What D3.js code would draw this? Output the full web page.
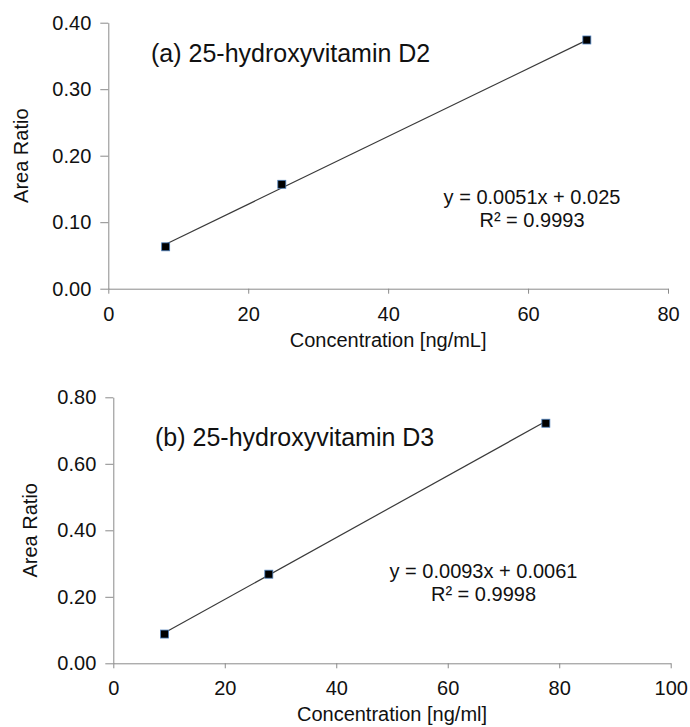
<!DOCTYPE html>
<html>
<head>
<meta charset="utf-8">
<script src="https://cdn.jsdelivr.net/npm/d3@7"></script>
<style>
  body { margin: 0; background: #fff; }
  svg { display: block; font-family: "Liberation Sans", Arial, sans-serif; }
  .axis path, .axis line { stroke: #8a8a8a; }
  .axis text { fill: #111; font-size: 20px; }
</style>
</head>
<body>
<svg id="chart" width="690" height="727"></svg>
<script>
// panel (a) 25-hydroxyvitamin D2
const concD2 = [8.2, 24.8, 68.4];
const ratioD2 = [0.063, 0.157, 0.374];
const fitD2 = [0.0051, 0.025];
const eqD2 = ["y = 0.0051x + 0.025", "R² = 0.9993"];

// panel (b) 25-hydroxyvitamin D3
const concD3 = [9.2, 27.9, 77.6];
const ratioD3 = [0.088, 0.268, 0.722];
const fitD3 = [0.0093, 0.0061];
const eqD3 = ["y = 0.0093x + 0.0061", "R² = 0.9998"];

const titles = ["(a) 25-hydroxyvitamin D2", "(b) 25-hydroxyvitamin D3"];
const xTitles = ["Concentration [ng/mL]", "Concentration [ng/ml]"];
const xMax = [80, 100];
const yMax = [0.4, 0.8];
const yStep = [0.1, 0.2];

const svg = d3.select("#chart");

const panels = [
  { conc: concD2, ratio: ratioD2, fit: fitD2, eq: eqD2, title: titles[0], xTitle: xTitles[0],
    xMax: xMax[0], yMax: yMax[0], yStep: yStep[0],
    left: 108.3, right: 668, top: 22.7, bottom: 288.7,
    titleX: 151, titleY: 62, eqX: 532, eqY: 204, yTitleX: 28 },
  { conc: concD3, ratio: ratioD3, fit: fitD3, eq: eqD3, title: titles[1], xTitle: xTitles[1],
    xMax: xMax[1], yMax: yMax[1], yStep: yStep[1],
    left: 113.3, right: 670.7, top: 397.3, bottom: 663.3,
    titleX: 155, titleY: 446, eqX: 483.5, eqY: 578, yTitleX: 37 }
];

function drawPanel(p) {
  const x = d3.scaleLinear().domain([0, p.xMax]).range([p.left, p.right]);
  const y = d3.scaleLinear().domain([0, p.yMax]).range([p.bottom, p.top]);
  const g = svg.append("g");

  const yTicks = d3.range(0, p.yMax + p.yStep / 2, p.yStep);

  g.append("g")
    .attr("class", "axis")
    .attr("transform", `translate(${p.left},0)`)
    .call(d3.axisLeft(y).tickValues(yTicks).tickFormat(d3.format(".2f"))
      .tickSize(8).tickSizeOuter(0).tickPadding(9));

  g.append("g")
    .attr("class", "axis")
    .attr("transform", `translate(0,${p.bottom})`)
    .call(d3.axisBottom(x).ticks(p.xMax / 20).tickFormat(d3.format("d"))
      .tickSize(5).tickSizeOuter(0).tickPadding(13));

  // trendline
  const [slope, icpt] = p.fit;
  const x0 = d3.min(p.conc), x1 = d3.max(p.conc);
  g.append("line")
    .attr("x1", x(x0)).attr("y1", y(slope * x0 + icpt))
    .attr("x2", x(x1)).attr("y2", y(slope * x1 + icpt))
    .attr("stroke", "#3a3a3a")
    .attr("stroke-width", 1.2);

  // markers
  const pts = p.conc.map((c, i) => ({ c, r: p.ratio[i] }));
  g.selectAll("rect.pt")
    .data(pts)
    .enter()
    .append("rect")
    .attr("class", "pt")
    .attr("x", d => x(d.c) - 4)
    .attr("y", d => y(d.r) - 4)
    .attr("width", 8)
    .attr("height", 8)
    .attr("fill", "#000")
    .attr("stroke", "#4f81bd")
    .attr("stroke-width", 0.8);

  g.append("text")
    .attr("x", p.titleX).attr("y", p.titleY)
    .attr("font-size", 25).attr("fill", "#111")
    .text(p.title);

  g.selectAll("text.eq")
    .data(p.eq)
    .enter()
    .append("text")
    .attr("class", "eq")
    .attr("x", p.eqX)
    .attr("y", (d, i) => p.eqY + i * 22.5)
    .attr("text-anchor", "middle")
    .attr("font-size", 20).attr("fill", "#111")
    .text(d => d);

  g.append("text")
    .attr("x", (p.left + p.right) / 2)
    .attr("y", p.bottom + 58)
    .attr("text-anchor", "middle")
    .attr("font-size", 20).attr("fill", "#111")
    .text(p.xTitle);

  g.append("text")
    .attr("transform", `translate(${p.yTitleX},${(p.top + p.bottom) / 2}) rotate(-90)`)
    .attr("text-anchor", "middle")
    .attr("font-size", 20).attr("fill", "#111")
    .text("Area Ratio");
}

panels.forEach(drawPanel);
</script>
</body>
</html>
